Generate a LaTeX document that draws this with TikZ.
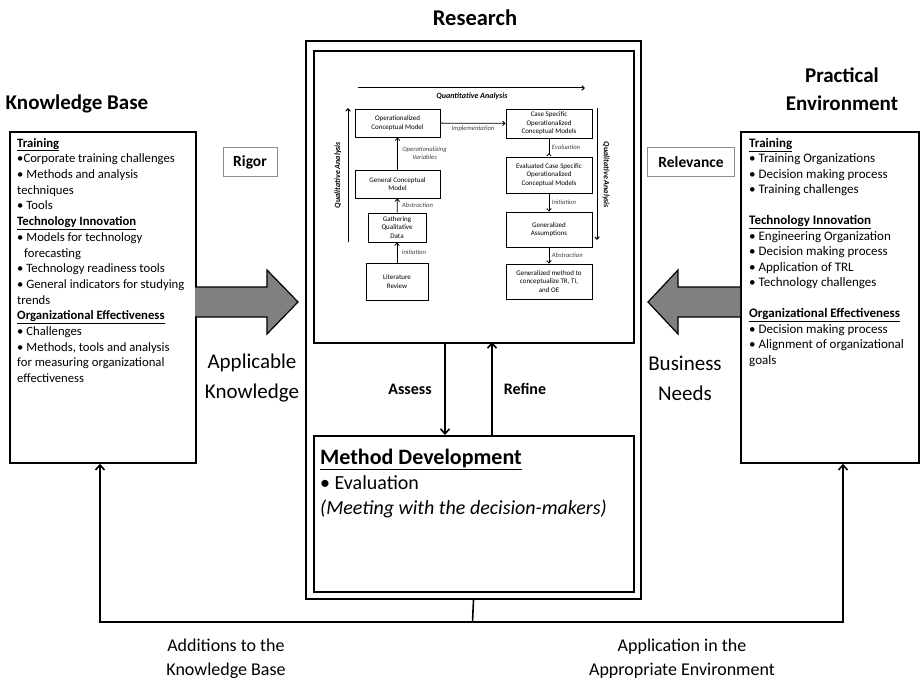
\documentclass[tikz,border=0pt]{standalone}
\usepackage{fontspec}
\setmainfont{Carlito}
\usetikzlibrary{arrows.meta, positioning, calc}

\tikzset{
  sidebox/.style={draw, line width=1.8pt, minimum width=#1, minimum height=331pt, anchor=north west, inner sep=0pt},
  listtext/.style={anchor=north west, align=left, inner sep=0pt, font=\fontsize{12.7}{15.7}\selectfont},
  tagbox/.style={draw=black!45, line width=0.8pt, minimum width=#1, minimum height=29pt, font=\fontsize{15.5}{17}\selectfont\bfseries},
  flowbox/.style={draw, line width=0.8pt, align=center, inner sep=1pt, font=\fontsize{7}{8.6}\selectfont},
  flowlbl/.style={font=\fontsize{6.6}{7.6}\selectfont\itshape, text=black!75, inner sep=1.5pt},
  flow/.style={line width=0.8pt, -{Straight Barb[length=2.5pt,width=4.5pt]}},
  mainarr/.style={line width=1.6pt, -{Straight Barb[length=5pt,width=9pt]}},
  bigtitle/.style={font=\fontsize{21}{28}\selectfont\bfseries, align=center},
  sidelbl/.style={font=\fontsize{21}{30}\selectfont, align=center},
  footlbl/.style={font=\fontsize{18}{24}\selectfont, align=center}
}

\begin{document}
\begin{tikzpicture}[x=1pt, y=-1pt]
  \useasboundingbox (0,0) rectangle (921,682);

  % titles
  \node[bigtitle, font=\fontsize{22.5}{28}\selectfont\bfseries] (restitle) at (475,18) {Research};
  \node[bigtitle] (kbtitle) at (77,104) {Knowledge Base};
  \node[bigtitle] (petitle) at (842,89) {Practical\\Environment};

  % left box (knowledge base)
  \node[sidebox=186pt] (kb) at (9,131) {};
  \node[listtext] (kbtext) at ($(kb.north west)+(8,7)$) {%
    \underline{\textbf{Training}}\\
    •Corporate training challenges\\
    • Methods and analysis\\
    techniques\\
    • Tools\\
    \underline{\textbf{Technology Innovation}}\\
    • Models for technology\\
    \hspace*{7pt}forecasting\\
    • Technology readiness tools\\
    • General indicators for studying\\
    trends\\
    \underline{\textbf{Organizational Effectiveness}}\\
    • Challenges\\
    • Methods, tools and analysis\\
    for measuring organizational\\
    effectiveness};

  % right box (practical environment)
  \node[sidebox=178pt] (pe) at (740,131) {};
  \node[listtext, font=\fontsize{13}{15.4}\selectfont] (petext) at ($(pe.north west)+(9,7)$) {%
    \underline{\textbf{Training}}\\
    • Training Organizations\\
    • Decision making process\\
    • Training challenges\\[16pt]
    \underline{\textbf{Technology Innovation}}\\
    • Engineering Organization\\
    • Decision making process\\
    • Application of TRL\\
    • Technology challenges\\[16pt]
    \underline{\textbf{Organizational Effectiveness}}\\
    • Decision making process\\
    • Alignment of organizational\\
    goals};

  % rigor / relevance
  \node[tagbox=54pt] (rigor) at (250,162) {Rigor};
  \node[tagbox=87pt] (relev) at (691,162) {Relevance};

  % research frame
  \node[draw, line width=2pt, minimum width=335pt, minimum height=558pt, anchor=north west] (resouter) at (305,40) {};
  \node[draw, line width=2pt, minimum width=320pt, minimum height=292pt, anchor=north west] (resinner) at (313,50) {};
  \node[draw, line width=2pt, minimum width=320pt, minimum height=156pt, anchor=north west] (mdev) at (313,435) {};
  \node[anchor=north west, align=left, inner sep=0pt, font=\fontsize{20}{25}\selectfont] (mdtext) at ($(mdev.north west)+(7,14)$) {%
    \underline{\textbf{\fontsize{22}{25}\selectfont Method Development}}\\
    • Evaluation\\
    \textit{(Meeting with the decision-makers)}};

  % assess / refine
  \draw[mainarr] (445,342) -- (445,435);
  \draw[mainarr] (492,435) -- (492,342);
  \node[font=\fontsize{16}{18}\selectfont\bfseries] (assess) at (410,389) {Assess};
  \node[font=\fontsize{16}{18}\selectfont\bfseries] (refine) at (525,389) {Refine};

  % flowchart inside research
  \node[flowbox, minimum width=85pt, minimum height=28pt] (opm) at (397.5,123) {Operationalized\\Conceptual Model};
  \node[flowbox, minimum width=86pt, minimum height=29pt] (csm) at (549,123.5) {Case Specific\\Operationalized\\Conceptual Models};
  \node[flowbox, minimum width=86pt, minimum height=36pt] (ecs) at (549,175) {Evaluated Case Specific\\Operationalized\\Conceptual Models};
  \node[flowbox, minimum width=86pt, minimum height=35pt] (gas) at (549,229.5) {Generalized\\Assumptions};
  \node[flowbox, minimum width=86pt, minimum height=35pt] (gmc) at (549,281.5) {Generalized method to\\conceptualize TR, TI,\\and OE};
  \node[flowbox, minimum width=85pt, minimum height=28pt] (gcm) at (397.5,184) {General Conceptual\\Model};
  \node[flowbox, minimum width=58pt, minimum height=29pt] (gqd) at (397,227.5) {Gathering\\Qualitative\\Data};
  \node[flowbox, minimum width=62pt, minimum height=37pt] (lit) at (397,281.5) {Literature\\Review};

  \draw[flow] (opm) -- (csm) node[flowlbl, midway, below=1pt] {Implementation};
  \draw[line width=0.8pt, -{Straight Barb[length=2.5pt,width=4.5pt,reversed]}] (csm) -- (ecs) node[flowlbl, midway, right=1pt] {Evaluation};
  \draw[flow] (ecs) -- (gas) node[flowlbl, midway, right=1pt] {Initiation};
  \draw[flow] (gas) -- (gmc) node[flowlbl, midway, right=1pt] {Abstraction};
  \draw[flow] (lit) -- (gqd) node[flowlbl, midway, right=3pt] {Initiation};
  \draw[flow] (gqd) -- (gcm) node[flowlbl, midway, right=3pt] {Abstraction};
  \draw[flow] (gcm) -- (opm) node[flowlbl, midway, right=3pt, align=center] {Operationalizing\\Variables};

  % analysis axes
  \coordinate (qa1) at (358,88);
  \coordinate (qa2) at (585,88);
  \draw[flow, line width=1pt] (qa1) -- (qa2);
  \node[font=\fontsize{8}{9}\selectfont\bfseries\itshape] (qalbl) at (472,96) {Quantitative Analysis};
  \coordinate (ql1) at (348,242);
  \coordinate (ql2) at (348,108);
  \draw[flow, line width=1pt] (ql1) -- (ql2);
  \node[rotate=90, font=\fontsize{8}{9}\selectfont\bfseries\itshape] (qllbl) at (338,175) {Qualitative Analysis};
  \coordinate (qr1) at (597,108);
  \coordinate (qr2) at (597,240);
  \draw[flow, line width=1pt] (qr1) -- (qr2);
  \node[rotate=-90, font=\fontsize{8}{9}\selectfont\bfseries\itshape] (qrlbl) at (606,175) {Qualitative Analysis};

  % big gray arrows
  \draw[line width=1.2pt, fill=black!50] (195,287) -- (267,287) -- (267,270) -- (298,302)
    -- (267,334) -- (267,317) -- (195,317);
  \draw[line width=1.2pt, fill=black!50] (740,287) -- (678,287) -- (678,270) -- (648,302)
    -- (678,334) -- (678,317) -- (740,317);
  \node[sidelbl] (applk) at (252,378) {Applicable\\Knowledge};
  \node[sidelbl] (busn) at (685,378) {Business\\Needs};

  % feedback to both sides
  \coordinate (join) at (472.5,622);
  \coordinate (fbL) at (100,622);
  \coordinate (fbR) at (843,622);
  \draw[line width=1.6pt] (resouter.south) -- (join);
  \draw[mainarr] (join) -- (fbL) -- (fbL |- kb.south);
  \draw[mainarr] (join) -- (fbR) -- (fbR |- pe.south);
  \node[footlbl] (addkb) at (226,659) {Additions to the\\Knowledge Base};
  \node[footlbl] (appenv) at (682,659) {Application in the\\Appropriate Environment};
\end{tikzpicture}
\end{document}
